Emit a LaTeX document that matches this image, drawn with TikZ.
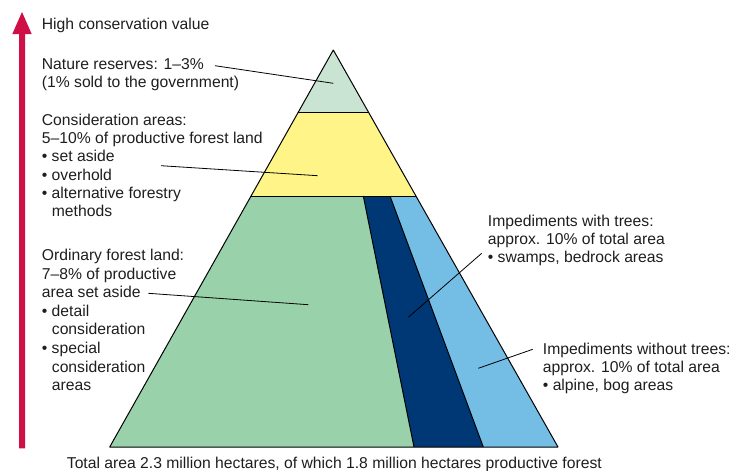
\documentclass[tikz,border=0pt]{standalone}
\usepackage{fontspec}
\setmainfont{Liberation Sans}
\definecolor{arrowred}{RGB}{206,16,70}
\definecolor{reservegreen}{RGB}{202,228,212}
\definecolor{considyellow}{RGB}{255,244,136}
\definecolor{forestgreen}{RGB}{153,210,170}
\definecolor{darkblue}{RGB}{0,56,117}
\definecolor{lightblue}{RGB}{116,190,230}
\definecolor{txt}{RGB}{30,30,30}
\begin{document}
\begin{tikzpicture}[x=1pt,y=-1pt,
  lbl/.style={anchor=base west,inner sep=0pt,text=txt,font=\fontsize{15.7}{18.3}\selectfont},
  leader/.style={draw=black,line width=0.8pt},
  band/.style={draw=black,line width=1pt,line join=round}]
\useasboundingbox (0,0) rectangle (731,471);

% pyramid corner points
\coordinate (apex) at (333.3,50);
\coordinate (r1l) at (298.0,112.7);
\coordinate (r1r) at (368.7,112.7);
\coordinate (r2l) at (251.1,196);
\coordinate (r2r) at (415.8,196);
\coordinate (bl) at (109.7,447);
\coordinate (br) at (558,447);
\coordinate (db1t) at (363.3,196);
\coordinate (db2t) at (390,196);
\coordinate (db1b) at (414,447);
\coordinate (db2b) at (483.3,447);

% bands
\fill[reservegreen] (apex) -- (r1r) -- (r1l) -- cycle;
\fill[considyellow] (r1l) -- (r1r) -- (r2r) -- (r2l) -- cycle;
\fill[forestgreen] (r2l) -- (db1t) -- (db1b) -- (bl) -- cycle;
\fill[darkblue] (db1t) -- (db2t) -- (db2b) -- (db1b) -- cycle;
\fill[lightblue] (db2t) -- (r2r) -- (br) -- (db2b) -- cycle;
\draw[band] (r1l) -- (r1r);
\draw[band] (r2l) -- (r2r);
\draw[band] (db1t) -- (db1b);
\draw[band] (db2t) -- (db2b);
\draw[band] (apex) -- (br) -- (bl) -- cycle;

% red arrow
\fill[arrowred] (19,448.3) -- (25,448.3) -- (25,34) -- (31.7,34) -- (22,12) -- (12.3,34) -- (19,34) -- cycle;

% texts
\node[lbl] (hcv) at (41.7,29.3) {High conservation value};

\node[lbl] (nr1) at (41.7,69.3) {Nature reserves: 1–3\%};
\node[lbl] (nr2) at (41.7,87.6) {(1\% sold to the government)};

\node[lbl] (ca1) at (41.7,125) {Consideration areas:};
\node[lbl] (ca2) at (41.7,143.3) {5–10\% of productive forest land};
\node[lbl] (ca3) at (41.7,161.7) {• set aside};
\node[lbl] (ca4) at (41.7,180) {• overhold};
\node[lbl] (ca5) at (41.7,198.3) {• alternative forestry};
\node[lbl] (ca6) at (51.7,216.7) {methods};

\node[lbl] (of1) at (41.7,260.7) {Ordinary forest land:};
\node[lbl] (of2) at (41.7,279.3) {7–8\% of productive};
\node[lbl] (of3) at (41.7,297.3) {area set aside};
\node[lbl] (of4) at (41.7,316) {• detail};
\node[lbl] (of5) at (51.7,334.6) {consideration};
\node[lbl] (of6) at (41.7,353.6) {• special};
\node[lbl] (of7) at (51.7,372.4) {consideration};
\node[lbl] (of8) at (51.7,390.7) {areas};

\node[lbl] (iw1) at (487.7,226.7) {Impediments with trees:};
\node[lbl] (iw2) at (487.7,244.6) {approx. 10\% of total area};
\node[lbl] (iw3) at (487.7,262.5) {• swamps, bedrock areas};

\node[lbl] (io1) at (542.7,354) {Impediments without trees:};
\node[lbl] (io2) at (542.7,372) {approx. 10\% of total area};
\node[lbl] (io3) at (542.7,390) {• alpine, bog areas};

\node[lbl] (total) at (66.7,468.3) {Total area 2.3 million hectares, of which 1.8 million hectares productive forest};

% leader lines
\coordinate (nrS) at (215,65.7);
\coordinate (nrE) at (333.3,83.3);
\coordinate (caS) at (161,165.7);
\coordinate (caE) at (317.7,175.7);
\coordinate (ofS) at (148.3,293.3);
\coordinate (ofE) at (308.3,304.7);
\coordinate (iwS) at (481.7,253.3);
\coordinate (iwE) at (408.3,317.3);
\coordinate (ioS) at (532.7,349.3);
\coordinate (ioE) at (478.3,368.3);
\draw[leader] (nrS) -- (nrE);
\draw[leader] (caS) -- (caE);
\draw[leader] (ofS) -- (ofE);
\draw[leader] (iwS) -- (iwE);
\draw[leader] (ioS) -- (ioE);
\end{tikzpicture}
\end{document}
